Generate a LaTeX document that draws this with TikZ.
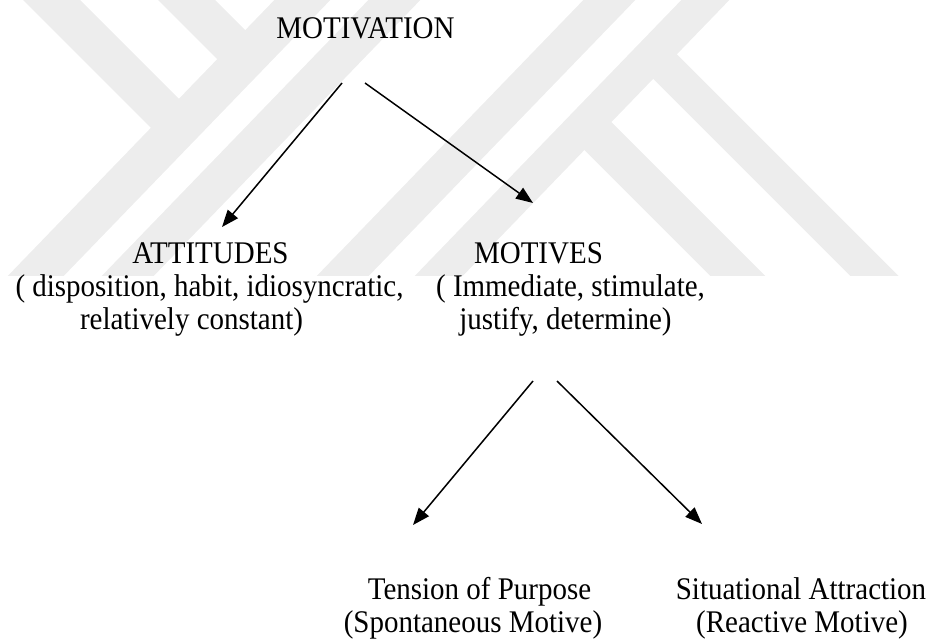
\documentclass[tikz,border=0pt]{standalone}
\usepackage{fontspec}
\setmainfont{Liberation Serif}[FakeStretch=0.92]
\usetikzlibrary{arrows.meta}
\begin{document}
\begin{tikzpicture}[x=1pt,y=-1pt,
  lbl/.style={anchor=base, inner sep=0pt, font=\fontsize{31.5}{33}\selectfont},
  conn/.style={line width=1.5pt, -{Triangle[length=17pt,width=13pt]}},
  wm/.style={fill=black!7, draw=none}]
\useasboundingbox (0,0) rectangle (932,642);
% faint background watermark
\begin{scope}
\clip (0,0) rectangle (932,275);
\fill[wm] (284,-10)--(340,-10)--(55,285)--(-1,285)--cycle;
\fill[wm] (378,-10)--(430,-10)--(145,285)--(93,285)--cycle;
\fill[wm] (593,-10)--(645,-10)--(360,285)--(308,285)--cycle;
\fill[wm] (691,-10)--(739,-10)--(454,285)--(406,285)--cycle;
\fill[wm] (13,-10)--(70,-10)--(190,110)--(161.5,138.5)--cycle;
\fill[wm] (148,-10)--(205,-10)--(257.5,42.5)--(229,71)--cycle;
\fill[wm] (661.35,38.65)--(907.7,285)--(859.3,285)--(637.15,62.85)--cycle;
\fill[wm] (594.65,105.35)--(774.3,285)--(719.3,285)--(567.15,132.85)--cycle;
\end{scope}
% texts
\node[lbl] (mot) at (365.5,38.3) {MOTIVATION};
\node[lbl] (att) at (210.5,263.3) {ATTITUDES};
\node[lbl] (att2) at (209.5,296.5) {( disposition, habit, idiosyncratic,};
\node[lbl] (att3) at (191.5,329.5) {relatively constant)};
\node[lbl] (mtv) at (538.5,263.3) {MOTIVES};
\node[lbl] (mtv2) at (570.5,296.5) {( Immediate, stimulate,};
\node[lbl] (mtv3) at (565.5,329.5) {justify, determine)};
\node[lbl] (ten) at (479.5,599.5) {Tension of Purpose};
\node[lbl] (ten2) at (473,632.5) {(Spontaneous Motive)};
\node[lbl] (sit) at (801,599.5) {Situational Attraction};
\node[lbl] (sit2) at (802,632.5) {(Reactive Motive)};
% connector ends
\coordinate (s1) at (342,83);
\coordinate (e1) at (222,227);
\coordinate (s2) at (365,83);
\coordinate (e2) at (533,203);
\coordinate (s3) at (533,381);
\coordinate (e3) at (413,525);
\coordinate (s4) at (557,381);
\coordinate (e4) at (702,524);
\draw[conn] (s1) -- (e1);
\draw[conn] (s2) -- (e2);
\draw[conn] (s3) -- (e3);
\draw[conn] (s4) -- (e4);
\end{tikzpicture}
\end{document}
